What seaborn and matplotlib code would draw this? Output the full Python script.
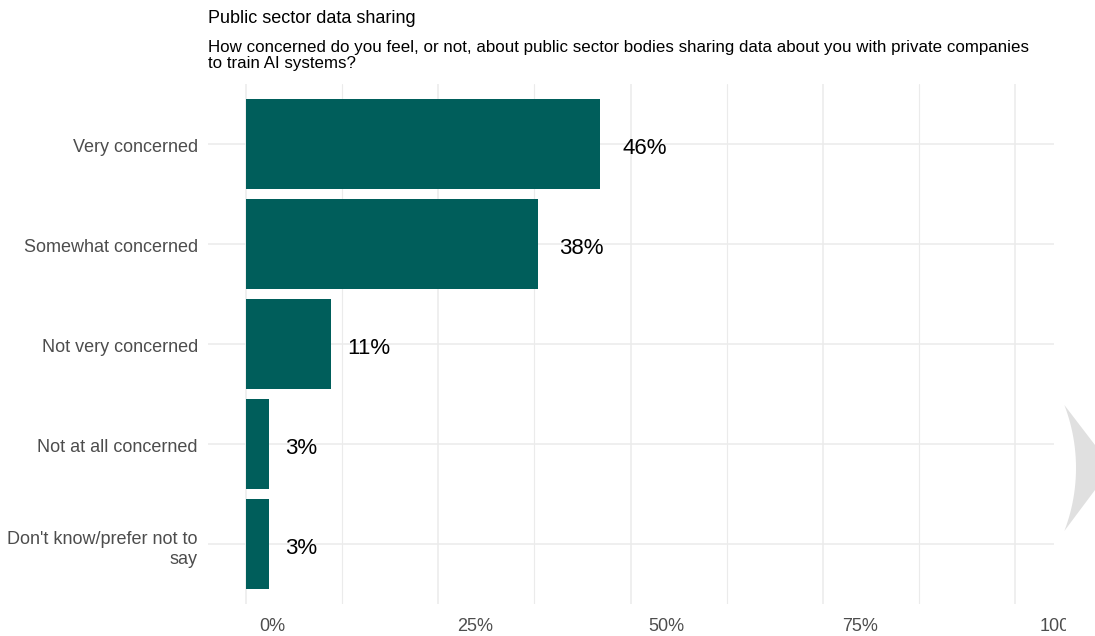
import numpy as np
import pandas as pd
import matplotlib
matplotlib.use("Agg")
import matplotlib.pyplot as plt
import matplotlib.transforms as mtransforms
from matplotlib.patches import Polygon
import seaborn as sns

# Survey responses (share of respondents, %)
categories = [
    "Very concerned",
    "Somewhat concerned",
    "Not very concerned",
    "Not at all concerned",
    "Don't know/prefer not to\nsay",
]
shares = [46, 38, 11, 3, 3]
tick_values = [0, 25, 50, 75, 100]
tick_labels = ["0%", "25%", "50%", "75%", "100%"]

title = "Public sector data sharing"
subtitle = ("How concerned do you feel, or not, about public sector bodies sharing data about you with private companies\n"
            "to train AI systems?")

df = pd.DataFrame({"response": categories, "share": shares})

sns.set_theme(style="white")
plt.rcParams["font.family"] = ["Liberation Sans", "DejaVu Sans"]

W, H = 1095, 636
fig = plt.figure(figsize=(W / 100, H / 100), dpi=100)
fig.patch.set_facecolor("white")

# panel in pixel terms
left, right, top, bottom = 207.5, 1053.5, 84, 604
ax = fig.add_axes([left / W, 1 - bottom / H, (right - left) / W, (bottom - top) / H])

bar_color = "#005E5B"
sns.barplot(data=df, x="share", y="response", orient="h", color=bar_color,
            width=0.9, saturation=1, linewidth=0, ax=ax)

ax.set_xlim(-5, 105)
ax.set_ylim(len(categories) - 0.4, -0.6)

# grid
grid_col = "#EBEBEB"
ax.set_xticks(tick_values)
ax.set_xticks([12.5, 37.5, 62.5, 87.5], minor=True)
ax.set_xticklabels(tick_labels)
ax.grid(which="major", axis="both", color=grid_col, linewidth=1.1)
ax.grid(which="minor", axis="x", color=grid_col, linewidth=0.8)
ax.set_axisbelow(True)
for s in ax.spines.values():
    s.set_visible(False)

ax.set_xlabel("")
ax.set_ylabel("")
ax.tick_params(axis="both", which="both", length=0)
ax.tick_params(axis="y", pad=7, labelsize=13, labelcolor="#4D4D4D")
ax.tick_params(axis="x", pad=10, labelsize=13, labelcolor="#4D4D4D")
for lab in ax.get_yticklabels():
    lab.set_multialignment("right")
    lab.set_transform(lab.get_transform() +
                      mtransforms.ScaledTranslation(0, -0.02, fig.dpi_scale_trans))

# x tick labels sit a little to the right of their gridlines; the last one is cut off
label_shift_px = [26, 37, 36, 37, 48]
clip = mtransforms.TransformedBbox(
    mtransforms.Bbox.from_extents(0, 0, 1066 / W, 1), fig.transFigure)
for lab, dx in zip(ax.get_xticklabels(), label_shift_px):
    lab.set_transform(lab.get_transform() +
                      mtransforms.ScaledTranslation(dx / 100, 0, fig.dpi_scale_trans))
    lab.set_clip_box(clip)
    lab.set_clip_on(True)

# value labels
for i, v in enumerate(shares):
    ax.text(v * 1.02 + 2.0, i + 0.045, f"{v}%", ha="left", va="center",
            fontsize=16, color="black")

# titles
fig.text(left / W, 1 - 23 / H, title, fontsize=13, color="black",
         ha="left", va="baseline")
fig.text(left / W, 1 - 40 / H, subtitle, fontsize=12.2, color="black",
         ha="left", va="top", linespacing=1.12)

# light grey crescent at the right edge
cx, cy, R = 900, 468, 176
t0 = np.arcsin((405 - cy) / R)
t1 = np.arcsin((531 - cy) / R)
ts = np.linspace(t0, t1, 40)
pts = [(cx + R * np.cos(t), cy + R * np.sin(t)) for t in ts]
pts += [(1095, 490), (1095, 445)]
pts = [(x / W, 1 - y / H) for x, y in pts]
fig.patches.append(Polygon(pts, closed=True, transform=fig.transFigure,
                           facecolor="#E0E0E0", edgecolor="none"))

fig.savefig("out.png", dpi=100)
